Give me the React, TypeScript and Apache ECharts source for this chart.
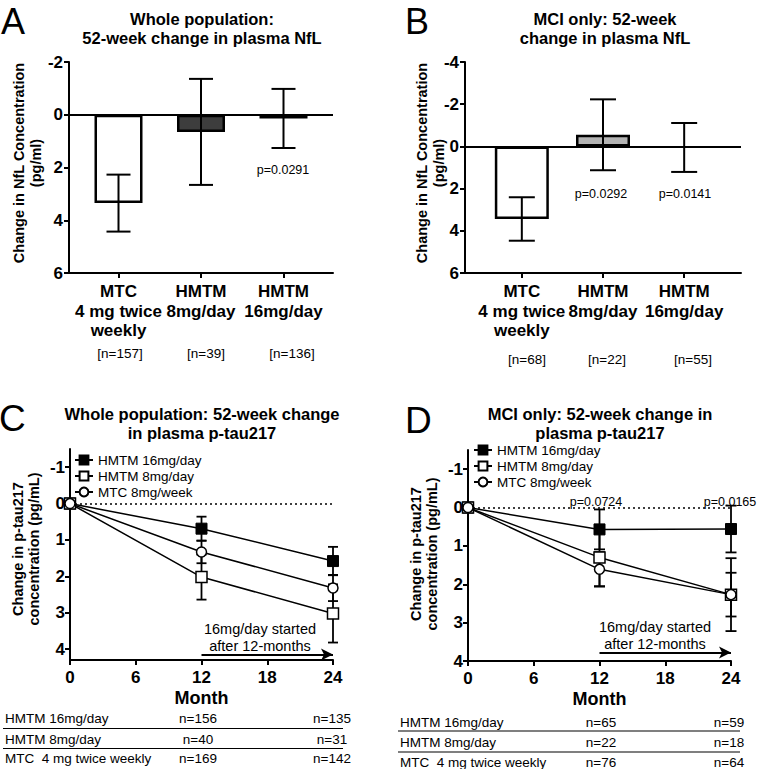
import { useEffect, useRef } from "react";
import * as echarts from "echarts";

// ---------- data ----------
const barCategories = ["MTC\n4 mg twice\nweekly", "HMTM\n8mg/day", "HMTM\n16mg/day"];
const wholeNflMean = [3.35, 0.65, 0.14];
const wholeNflErr = [1.08, 2.01, 1.12];
const wholeNflN = ["[n=157]", "[n=39]", "[n=136]"];
const wholeNflP = ["", "", "p=0.0291"];
const mciNflMean = [3.44, -0.55, 0.05];
const mciNflErr = [1.03, 1.68, 1.16];
const mciNflN = ["[n=68]", "[n=22]", "[n=55]"];
const mciNflP = ["", "p=0.0292", "p=0.0141"];

const months = [0, 12, 24];
const seriesNames = ["HMTM 16mg/day", "HMTM 8mg/day", "MTC 8mg/week"];
const wholeTau16 = [0, 0.69, 1.58];
const wholeTau16Err = [0, 0.33, 0.39];
const wholeTau8 = [0, 2.02, 3.02];
const wholeTau8Err = [0, 0.62, 0.8];
const wholeTauMtc = [0, 1.33, 2.32];
const wholeTauMtcErr = [0, 0.31, 0.36];
const mciTau16 = [0, 0.57, 0.56];
const mciTau16Err = [0, 0.52, 0.61];
const mciTau8 = [0, 1.3, 2.27];
const mciTau8Err = [0, 0.75, 0.95];
const mciTauMtc = [0, 1.61, 2.27];
const mciTauMtcErr = [0, 0.45, 0.57];
const mciTauP = ["p=0.0724", "p=0.0165"];

const tableLabels = ["HMTM 16mg/day", "HMTM 8mg/day", "MTC  4 mg twice weekly"];
const wholeTauN12 = ["n=156", "n=40", "n=169"];
const wholeTauN24 = ["n=135", "n=31", "n=142"];
const mciTauN12 = ["n=65", "n=22", "n=76"];
const mciTauN24 = ["n=59", "n=18", "n=64"];

const tauYTicks = [-1, 0, 1, 2, 3, 4];
const switchMonthStart = 12;
const switchMonthEnd = 24;

// ---------- helpers ----------
const FONT = "'Liberation Sans', Arial, Helvetica, sans-serif";
const BLACK = "#000";

function txt(x: number, y: number, text: string, o: any = {}) {
  return {
    type: "text",
    x,
    y,
    rotation: o.rotation || 0,
    silent: true,
    style: {
      text,
      fill: BLACK,
      font: `${o.bold ? "bold " : ""}${o.size || 13}px ${FONT}`,
      align: o.align || "center",
      verticalAlign: o.valign || "middle",
      lineHeight: o.lineHeight,
    },
  };
}
function hline(x1: number, x2: number, y: number) {
  return {
    type: "line",
    silent: true,
    shape: { x1, y1: y, x2, y2: y },
    style: { stroke: BLACK, lineWidth: 1.2 },
  };
}

function errSeries(xi: number, data: number[][], cap: number, width: number) {
  return {
    type: "custom",
    xAxisIndex: xi,
    yAxisIndex: xi,
    z: 4,
    silent: true,
    data: data.filter((d) => d[2] > 0),
    encode: { x: 0, y: 1 },
    renderItem: (_p: any, api: any) => {
      const x = api.value(0);
      const m = api.value(1);
      const e = api.value(2);
      const a = api.coord([x, m - e]);
      const b = api.coord([x, m + e]);
      const st = { stroke: BLACK, lineWidth: width };
      return {
        type: "group",
        children: [
          { type: "line", shape: { x1: a[0], y1: a[1], x2: b[0], y2: b[1] }, style: st },
          { type: "line", shape: { x1: a[0] - cap / 2, y1: a[1], x2: a[0] + cap / 2, y2: a[1] }, style: st },
          { type: "line", shape: { x1: b[0] - cap / 2, y1: b[1], x2: b[0] + cap / 2, y2: b[1] }, style: st },
        ],
      };
    },
  };
}

const axisLineStyle = { color: BLACK, width: 2 };
const tickStyle = { show: true, length: 5, lineStyle: { color: BLACK, width: 2 } };
const boldLabel = { color: BLACK, fontWeight: "bold", fontSize: 17, fontFamily: FONT };

function barXAxis(gi: number, min: number, max: number) {
  return {
    type: "value",
    gridIndex: gi,
    min,
    max,
    position: "bottom",
    axisLine: { show: true, onZero: false, lineStyle: axisLineStyle },
    axisTick: { ...tickStyle, customValues: [1, 2, 3] },
    axisLabel: {
      ...boldLabel,
      lineHeight: 19.5,
      margin: 9,
      customValues: [1, 2, 3],
      formatter: (v: number) => barCategories[Math.round(v) - 1] || "",
    },
    splitLine: { show: false },
  };
}
function barYAxis(gi: number, min: number, max: number) {
  return {
    type: "value",
    gridIndex: gi,
    min,
    max,
    interval: 2,
    inverse: true,
    axisLine: { show: true, onZero: false, lineStyle: axisLineStyle },
    axisTick: tickStyle,
    axisLabel: { ...boldLabel, margin: 6, formatter: (v: number) => String(v) },
    splitLine: { show: false },
  };
}
function tauXAxis(gi: number) {
  return {
    type: "value",
    gridIndex: gi,
    min: 0,
    max: 24,
    interval: 6,
    position: "bottom",
    name: "Month",
    nameLocation: "middle",
    nameGap: 29,
    nameTextStyle: { color: BLACK, fontWeight: "bold", fontSize: 18, fontFamily: FONT },
    axisLine: { show: true, onZero: false, lineStyle: axisLineStyle },
    axisTick: tickStyle,
    axisLabel: { ...boldLabel, margin: 9 },
    splitLine: { show: false },
  };
}
function tauYAxis(gi: number, max: number) {
  return {
    type: "value",
    gridIndex: gi,
    min: -1.5,
    max,
    inverse: true,
    axisLine: { show: true, onZero: false, lineStyle: axisLineStyle },
    axisTick: { ...tickStyle, customValues: tauYTicks },
    axisLabel: { ...boldLabel, margin: 5, customValues: tauYTicks, formatter: (v: number) => String(v) },
    splitLine: { show: false },
  };
}

function barSeries(gi: number, means: number[], styles: any[], width: number) {
  return {
    type: "bar",
    xAxisIndex: gi,
    yAxisIndex: gi,
    barWidth: width,
    z: 2,
    silent: true,
    data: means.map((m, i) => ({ value: [i + 1, m], itemStyle: styles[i] })),
    markLine: {
      silent: true,
      symbol: ["none", "none"],
      label: { show: false },
      lineStyle: { color: BLACK, type: "solid", width: 2 },
      data: [{ yAxis: 0 }],
    },
  };
}

const markerStyles = [
  { symbol: "rect", symbolSize: 11, itemStyle: { color: BLACK, borderColor: BLACK, borderWidth: 1 } },
  { symbol: "rect", symbolSize: 11, itemStyle: { color: "#fff", borderColor: BLACK, borderWidth: 1.5 } },
  { symbol: "circle", symbolSize: 10, itemStyle: { color: "#fff", borderColor: BLACK, borderWidth: 1.5 } },
];

function tauLines(gi: number, vals: number[][], arrowY: number) {
  return vals.map((v, k) => {
    let markLine: any = undefined;
    if (k === 0) {
      markLine = {
        silent: true,
        symbol: ["none", "none"],
        label: { show: false },
        lineStyle: { color: BLACK, type: [2, 3], width: 1.5 },
        data: [{ yAxis: 0 }],
      };
    } else if (k === 1) {
      markLine = {
        silent: true,
        symbol: ["none", "arrow"],
        symbolSize: [9, 12],
        label: { show: false },
        lineStyle: { color: BLACK, type: "solid", width: 1.8 },
        data: [[{ coord: [switchMonthStart, arrowY] }, { coord: [switchMonthEnd, arrowY] }]],
      };
    }
    return {
      type: "line",
      name: seriesNames[k],
      xAxisIndex: gi,
      yAxisIndex: gi,
      z: 5,
      silent: true,
      ...markerStyles[k],
      lineStyle: { color: BLACK, width: 1.5 },
      data: months.map((m, i) => [m, v[i]]),
      markLine,
    };
  });
}

function buildOption() {
  const graphics: any[] = [];
  // panel letters
  graphics.push(txt(1, 21, "A", { size: 36, align: "left" }));
  graphics.push(txt(405, 21, "B", { size: 36, align: "left" }));
  graphics.push(txt(-1, 418, "C", { size: 37, align: "left" }));
  graphics.push(txt(405, 420, "D", { size: 37, align: "left" }));
  // titles
  graphics.push(txt(202, 28, "Whole population:\n52-week change in plasma NfL", { bold: true, size: 16.5, lineHeight: 19 }));
  graphics.push(txt(605, 28, "MCI only: 52-week\nchange in plasma NfL", { bold: true, size: 16.5, lineHeight: 19 }));
  graphics.push(txt(202, 423, "Whole population: 52-week change\nin plasma p-tau217", { bold: true, size: 16.5, lineHeight: 19 }));
  graphics.push(txt(600, 423, "MCI only: 52-week change in\nplasma p-tau217", { bold: true, size: 16.5, lineHeight: 19 }));
  // y names
  const rot = Math.PI / 2;
  graphics.push(txt(27, 163, "Change in NfL Concentration\n(pg/ml)", { bold: true, size: 14.5, lineHeight: 17, rotation: rot }));
  graphics.push(txt(430, 163, "Change in NfL Concentration\n(pg/ml)", { bold: true, size: 14.5, lineHeight: 17, rotation: rot }));
  graphics.push(txt(26, 549, "Change in p-tau217\nconcentration (pg/mL)", { bold: true, size: 14.5, lineHeight: 15.5, rotation: rot }));
  graphics.push(txt(424, 554, "Change in p-tau217\nconcentration (pg/mL)", { bold: true, size: 14.5, lineHeight: 15.5, rotation: rot }));
  // n labels under bars
  const aN = [120, 206, 292];
  const bN = [527, 607, 693];
  wholeNflN.forEach((s, i) => graphics.push(txt(aN[i], 353, s, { size: 13.5 })));
  mciNflN.forEach((s, i) => graphics.push(txt(bN[i], 359, s, { size: 13.5 })));
  // p values
  const aP = [[0, 0], [0, 0], [283, 170]];
  const bP = [[0, 0], [601, 194], [685, 194]];
  wholeNflP.forEach((s, i) => s && graphics.push(txt(aP[i][0], aP[i][1], s, { size: 12.5 })));
  mciNflP.forEach((s, i) => s && graphics.push(txt(bP[i][0], bP[i][1], s, { size: 12.5 })));
  graphics.push(txt(596, 502, mciTauP[0], { size: 12.5 }));
  graphics.push(txt(730, 502, mciTauP[1], { size: 12.5 }));
  // annotations
  graphics.push(txt(260, 637, "16mg/day started\nafter 12-months", { size: 14.5, lineHeight: 17 }));
  graphics.push(txt(655, 635, "16mg/day started\nafter 12-months", { size: 14.5, lineHeight: 17 }));
  // tables
  const cRows = [718, 739, 758];
  const dRows = [722, 742, 762];
  tableLabels.forEach((s, i) => {
    graphics.push(txt(5, cRows[i], s, { size: 13.5, align: "left" }));
    graphics.push(txt(198, cRows[i], wholeTauN12[i], { size: 13.5 }));
    graphics.push(txt(332, cRows[i], wholeTauN24[i], { size: 13.5 }));
    graphics.push(txt(400, dRows[i], s, { size: 13.5, align: "left" }));
    graphics.push(txt(601, dRows[i], mciTauN12[i], { size: 13.5 }));
    graphics.push(txt(729, dRows[i], mciTauN24[i], { size: 13.5 }));
  });
  graphics.push(hline(3, 343, 728.5));
  graphics.push(hline(3, 343, 748.5));
  graphics.push(hline(398, 740, 731));
  graphics.push(hline(398, 740, 752));

  const aStyles = [
    { color: "#fff", borderColor: BLACK, borderWidth: 2.5 },
    { color: "#3d3d3d", borderColor: BLACK, borderWidth: 2.5 },
    { color: "#3d3d3d", borderColor: BLACK, borderWidth: 2.5 },
  ];
  const bStyles = [
    { color: "#fff", borderColor: BLACK, borderWidth: 2.5 },
    { color: "#b3b3b3", borderColor: BLACK, borderWidth: 2.5 },
    { color: "#b3b3b3", borderColor: "#8a8a8a", borderWidth: 1.5 },
  ];

  const legendBase = {
    orient: "vertical",
    padding: 0,
    itemWidth: 18,
    itemHeight: 11,
    itemGap: 2,
    selectedMode: false,
    textStyle: { color: BLACK, fontSize: 13.5, fontFamily: FONT },
    data: seriesNames,
  };

  return {
    animation: false,
    backgroundColor: "#fff",
    textStyle: { fontFamily: FONT },
    grid: [
      { left: 69, top: 62, width: 264, height: 211, containLabel: false, outerBoundsMode: "none" },
      { left: 465, top: 62, width: 276, height: 211, containLabel: false, outerBoundsMode: "none" },
      { left: 70, top: 449, width: 263, height: 211, containLabel: false, outerBoundsMode: "none" },
      { left: 468, top: 450, width: 263, height: 211, containLabel: false, outerBoundsMode: "none" },
    ],
    xAxis: [barXAxis(0, 0.4, 3.6), barXAxis(1, 0.3, 3.7), tauXAxis(2), tauXAxis(3)],
    yAxis: [barYAxis(0, -2, 6), barYAxis(1, -4, 6), tauYAxis(2, 4.3), tauYAxis(3, 4)],
    legend: [
      { ...legendBase, left: 74, top: 453 },
      { ...legendBase, left: 473, top: 443 },
    ],
    series: [
      barSeries(0, wholeNflMean, aStyles, 48),
      errSeries(0, wholeNflMean.map((m, i) => [i + 1, m, wholeNflErr[i]]), 24, 2),
      barSeries(1, mciNflMean, bStyles, 54),
      errSeries(1, mciNflMean.map((m, i) => [i + 1, m, mciNflErr[i]]), 26, 2),
      ...tauLines(2, [wholeTau16, wholeTau8, wholeTauMtc], 4.15),
      errSeries(2, months.map((m, i) => [m, wholeTau16[i], wholeTau16Err[i]]), 10, 1.8),
      errSeries(2, months.map((m, i) => [m, wholeTau8[i], wholeTau8Err[i]]), 10, 1.8),
      errSeries(2, months.map((m, i) => [m, wholeTauMtc[i], wholeTauMtcErr[i]]), 10, 1.8),
      ...tauLines(3, [mciTau16, mciTau8, mciTauMtc], 3.78),
      errSeries(3, months.map((m, i) => [m, mciTau16[i], mciTau16Err[i]]), 11, 1.8),
      errSeries(3, months.map((m, i) => [m, mciTau8[i], mciTau8Err[i]]), 11, 1.8),
      errSeries(3, months.map((m, i) => [m, mciTauMtc[i], mciTauMtcErr[i]]), 11, 1.8),
    ],
    graphic: graphics,
  };
}

export default function App() {
  const ref = useRef<HTMLDivElement>(null);
  useEffect(() => {
    if (!ref.current) return;
    const chart = echarts.init(ref.current, null, { renderer: "svg" });
    chart.setOption(buildOption() as any);
    return () => chart.dispose();
  }, []);
  return (
    <div
      ref={ref}
      style={{ position: "absolute", left: 0, top: 0, width: 757, height: 769, background: "#fff" }}
    />
  );
}
